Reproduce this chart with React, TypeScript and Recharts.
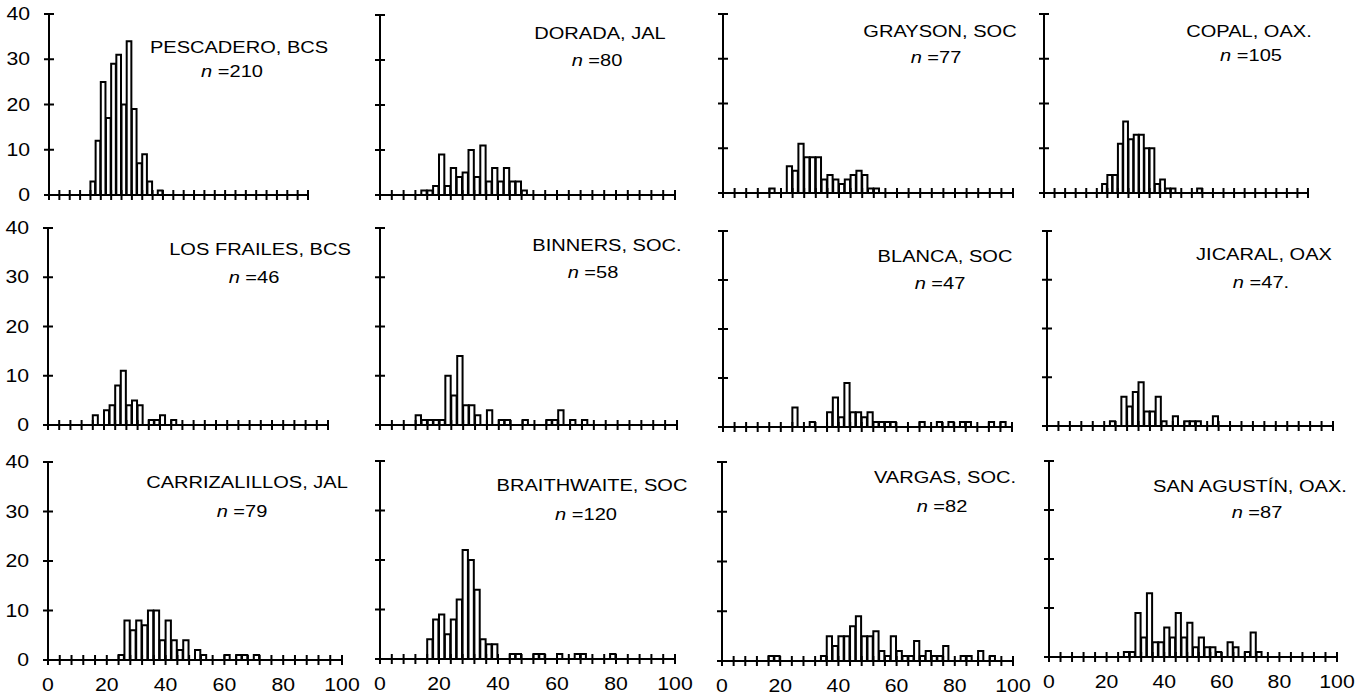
import React from "react";
import { Bar, BarChart, XAxis, YAxis } from "recharts";

// site labels and sample sizes
const siteNames = [
  "PESCADERO, BCS",
  "DORADA, JAL",
  "GRAYSON, SOC",
  "COPAL, OAX.",
  "LOS FRAILES, BCS",
  "BINNERS, SOC.",
  "BLANCA, SOC",
  "JICARAL, OAX",
  "CARRIZALILLOS, JAL",
  "BRAITHWAITE, SOC",
  "VARGAS, SOC.",
  "SAN AGUSTÍN, OAX.",
];
const sampleSizes = ["210", "80", "77", "105", "46", "58", "47", "47.", "79", "120", "82", "87"];

// lower edge of the first listed 2-unit bin for each site
const firstBin = [16, 14, 16, 22, 16, 12, 24, 22, 24, 16, 16, 26];

// counts per 2-unit bin, starting at firstBin
const pescadero = [3, 12, 25, 17, 29, 31, 20, 34, 19, 7, 9, 3, 0, 1];
const dorada = [1, 1, 2, 9, 2, 6, 4, 5, 10, 4, 11, 3, 6, 3, 6, 3, 3, 1];
const grayson = [1, 0, 0, 6, 5, 11, 8, 8, 8, 3, 4, 3, 2, 3, 4, 5, 4, 1, 1];
const copal = [2, 4, 4, 11, 16, 12, 13, 13, 10, 10, 2, 3, 1, 1, 0, 0, 0, 0, 1];
const losFrailes = [2, 0, 3, 4, 8, 11, 4, 5, 4, 0, 1, 1, 2, 0, 1];
const binners = [2, 1, 1, 1, 1, 10, 6, 14, 4, 4, 2, 0, 3, 0, 1, 1, 0, 0, 1, 0, 0, 0, 1, 1, 3, 0, 1, 0, 1];
const blanca = [4, 0, 0, 1, 0, 0, 3, 6, 2, 9, 3, 3, 2, 3, 1, 1, 1, 1, 0, 0, 0, 0, 1, 0, 0, 1, 0, 1, 0, 1, 1, 0, 0, 0, 1, 0, 1];
const jicaral = [1, 0, 6, 4, 7, 9, 3, 3, 6, 1, 0, 2, 0, 1, 1, 1, 0, 0, 2];
const carrizalillos = [1, 8, 6, 8, 7, 10, 10, 4, 8, 4, 2, 4, 0, 2, 1, 0, 0, 0, 1, 0, 1, 1, 0, 1];
const braithwaite = [4, 8, 9, 5, 8, 12, 22, 20, 14, 4, 3, 3, 0, 0, 1, 1, 0, 0, 1, 1, 0, 0, 1, 0, 0, 1, 1, 0, 0, 0, 0, 1];
const vargas = [1, 1, 0, 0, 0, 0, 0, 0, 0, 1, 5, 3, 5, 5, 7, 9, 5, 5, 6, 2, 1, 5, 2, 1, 1, 4, 1, 2, 1, 1, 3, 0, 0, 1, 1, 0, 2, 0, 1];
const sanAgustin = [1, 1, 9, 4, 13, 3, 3, 6, 4, 9, 4, 7, 2, 4, 2, 2, 1, 0, 3, 2, 0, 1, 5, 1];

const siteCounts = [
  pescadero, dorada, grayson, copal,
  losFrailes, binners, blanca, jicaral,
  carrizalillos, braithwaite, vargas, sanAgustin,
];

const xTicks = [0, 4, 8, 12, 16, 20, 24, 28, 32, 36, 40, 44, 48, 52, 56, 60, 64, 68, 72, 76, 80, 84, 88, 92, 96, 100];
const yTicks = [0, 10, 20, 30, 40];

// page geometry of each panel: y axis x, x=100 pixel, y=40 pixel, y=0 pixel
const panels = [
  { x0: 49, x100: 308, yTop: 14, yBase: 195, tx: 239, ty: 53, nx: 232, ny: 77 },
  { x0: 380, x100: 675, yTop: 15, yBase: 195, tx: 600, ty: 39, nx: 597, ny: 66 },
  { x0: 723, x100: 1013, yTop: 14, yBase: 193, tx: 940, ty: 37, nx: 936, ny: 63 },
  { x0: 1044, x100: 1308, yTop: 14, yBase: 193, tx: 1249, ty: 37, nx: 1251, ny: 61 },
  { x0: 48, x100: 328, yTop: 228, yBase: 425, tx: 260, ty: 255, nx: 254, ny: 283 },
  { x0: 380, x100: 677, yTop: 228, yBase: 425, tx: 607, ty: 251, nx: 593, ny: 278 },
  { x0: 723, x100: 1012, yTop: 231, yBase: 427, tx: 945, ty: 262, nx: 940, ny: 289 },
  { x0: 1047, x100: 1333, yTop: 231, yBase: 426, tx: 1264, ty: 260, nx: 1261, ny: 288 },
  { x0: 48, x100: 342, yTop: 462, yBase: 660, tx: 247, ty: 488, nx: 242, ny: 517 },
  { x0: 380, x100: 675, yTop: 461, yBase: 659, tx: 592, ty: 491, nx: 586, ny: 520 },
  { x0: 722, x100: 1013, yTop: 462, yBase: 661, tx: 945, ty: 483, nx: 942, ny: 512 },
  { x0: 1049, x100: 1337, yTop: 461, yBase: 657, tx: 1250, ty: 492, nx: 1257, ny: 518 },
];

const FONT = "'Liberation Sans', Arial, Helvetica, sans-serif";
const STRETCH = 1.18;
const L = 50;
const R = 30;
const T = 10;
const B = 40;

const buildRows = (counts: number[], start: number) => {
  const rows: { mid: number; count: number }[] = [];
  const offset = start / 2;
  for (let i = 0; i < 50; i++) {
    const v = counts[i - offset];
    rows.push({ mid: i * 2 + 1, count: v === undefined ? 0 : v });
  }
  return rows;
};

const XTick = (props: any) => {
  const { x, y, payload, showLabel } = props;
  return (
    <g>
      <line x1={x} x2={x} y1={y - 5} y2={y + 5} stroke="#000" strokeWidth={2} />
      {showLabel && payload.value % 20 === 0 && (
        <text
          transform={`translate(${x},${y + 31}) scale(${STRETCH},1)`}
          textAnchor="middle"
          fontSize={18}
          fontFamily={FONT}
          fill="#000"
        >
          {payload.value}
        </text>
      )}
    </g>
  );
};

const YTick = (props: any) => {
  const { x, y, payload, showLabel } = props;
  return (
    <g>
      <line x1={x - 5} x2={x + 5} y1={y} y2={y} stroke="#000" strokeWidth={2} />
      {showLabel && (
        <text
          transform={`translate(${x - 19},${y + 6}) scale(${STRETCH},1)`}
          textAnchor="end"
          fontSize={18}
          fontFamily={FONT}
          fill="#000"
        >
          {payload.value}
        </text>
      )}
    </g>
  );
};

const Panel = ({ index }: { index: number }) => {
  const p = panels[index];
  const row = Math.floor(index / 4);
  const col = index % 4;
  const plotW = p.x100 - p.x0;
  const plotH = p.yBase - p.yTop;
  const width = plotW + L + R;
  const height = plotH + T + B;
  const data = buildRows(siteCounts[index], firstBin[index]);

  return (
    <div style={{ position: "absolute", left: p.x0 - L, top: p.yTop - T, width, height }}>
      <BarChart
        width={width}
        height={height}
        data={data}
        margin={{ top: T, right: R, bottom: 0, left: 0 }}
        barCategoryGap={0}
        barGap={0}
      >
        <XAxis
          type="number"
          dataKey="mid"
          domain={[0, 100]}
          ticks={xTicks}
          interval={0}
          height={B}
          tickSize={0}
          tickMargin={0}
          tickLine={false}
          axisLine={{ stroke: "#000", strokeWidth: 2 }}
          allowDataOverflow
          tick={(t: any) => <XTick {...t} showLabel={row === 2} />}
        />
        <YAxis
          type="number"
          domain={[0, 40]}
          ticks={yTicks}
          interval={0}
          width={L}
          tickSize={0}
          tickMargin={0}
          tickLine={false}
          axisLine={{ stroke: "#000", strokeWidth: 2 }}
          allowDataOverflow
          tick={(t: any) => <YTick {...t} showLabel={col === 0} />}
        />
        <Bar
          dataKey="count"
          fill="#fff"
          stroke="#000"
          strokeWidth={2}
          barSize={plotW / 50}
          isAnimationActive={false}
        />
      </BarChart>
    </div>
  );
};

const Titles = () => (
  <svg
    width={1368}
    height={698}
    style={{ position: "absolute", left: 0, top: 0, pointerEvents: "none" }}
  >
    {panels.map((p, i) => (
      <g key={siteNames[i]} fontFamily={FONT} fontSize={17} fill="#000">
        <text transform={`translate(${p.tx},${p.ty}) scale(${STRETCH},1)`} textAnchor="middle">
          {siteNames[i]}
        </text>
        <text transform={`translate(${p.nx},${p.ny}) scale(${STRETCH},1)`} textAnchor="middle">
          <tspan fontStyle="italic">n</tspan>
          <tspan> ={sampleSizes[i]}</tspan>
        </text>
      </g>
    ))}
  </svg>
);

export default function App() {
  return (
    <div
      style={{
        position: "absolute",
        left: 0,
        top: 0,
        width: 1368,
        height: 698,
        background: "#fff",
        overflow: "hidden",
      }}
    >
      {panels.map((_, i) => (
        <Panel key={siteNames[i]} index={i} />
      ))}
      <Titles />
    </div>
  );
}
